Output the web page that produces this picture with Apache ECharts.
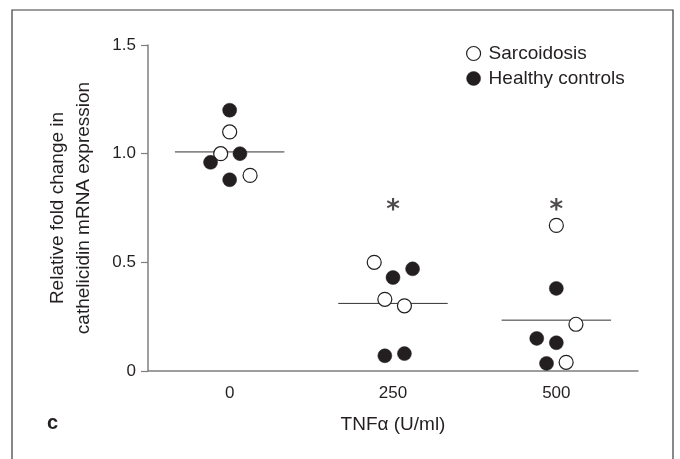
<!DOCTYPE html>
<html>
<head>
<meta charset="utf-8">
<script src="https://cdn.jsdelivr.net/npm/echarts@6/dist/echarts.min.js"></script>
<style>
html,body{margin:0;padding:0;background:#fff;}
#chart{width:680px;height:459px;}
</style>
</head>
<body>
<div id="chart"></div>
<script>
// ---- data ----
const categories = ['0', '250', '500'];
const yTicks = [0, 0.5, 1.0, 1.5];
const sarcoidosisValues = [[1.00, 1.10, 0.90], [0.50, 0.33, 0.30], [0.67, 0.215, 0.04]];
const healthyValues = [[1.20, 1.00, 0.96, 0.88], [0.43, 0.47, 0.07, 0.08], [0.38, 0.15, 0.13, 0.035]];
const medians = [1.008, 0.311, 0.234];
const significant = [false, true, true];
const asteriskLevel = 0.77;
// horizontal jitter of dots within a category (layout)
const sarcoidosisJitter = [[-0.055, 0, 0.125], [-0.115, -0.05, 0.07], [0, 0.12, 0.06]];
const healthyJitter = [[0, 0.063, -0.117, 0], [0, 0.12, -0.05, 0.07], [0, -0.12, 0, -0.06]];
const medianHalfWidth = 0.335;

const FONT = 'Liberation Sans';
const TXT = '#231f20';
const AX = '#7f7f7f';

function pts(vals, jit) {
  const out = [];
  vals.forEach((g, gi) => g.forEach((v, i) => out.push([gi + jit[gi][i], v])));
  return out;
}

const series = [
  {
    name: 'Sarcoidosis', type: 'scatter', xAxisIndex: 1, yAxisIndex: 0,
    symbol: 'circle', symbolSize: 14, z: 5,
    itemStyle: { color: '#ffffff', borderColor: TXT, borderWidth: 1.2, opacity: 1 },
    data: pts(sarcoidosisValues, sarcoidosisJitter)
  },
  {
    name: 'Healthy controls', type: 'scatter', xAxisIndex: 1, yAxisIndex: 0,
    symbol: 'circle', symbolSize: 14, z: 5,
    itemStyle: { color: TXT, borderColor: TXT, borderWidth: 0.5, opacity: 1 },
    data: pts(healthyValues, healthyJitter)
  }
];
medians.forEach((m, gi) => {
  series.push({
    type: 'line', xAxisIndex: 1, yAxisIndex: 0, symbol: 'none', silent: true, z: 3,
    lineStyle: { color: '#333', width: 1 },
    data: [[gi - medianHalfWidth, m], [gi + medianHalfWidth, m]]
  });
});
series.push({
  type: 'scatter', xAxisIndex: 1, yAxisIndex: 0, symbolSize: 1, silent: true,
  itemStyle: { color: 'rgba(0,0,0,0)' },
  label: { show: true, position: 'inside', formatter: '*', fontFamily: 'DejaVu Sans', fontWeight: 'bold', fontSize: 26, color: TXT, offset: [0, 8] },
  data: significant.map((s, gi) => s ? [gi, asteriskLevel] : null).filter(d => d)
});

const chart = echarts.init(document.getElementById('chart'), null, { renderer: 'canvas' });
chart.setOption({
  animation: false,
  backgroundColor: '#fff',
  textStyle: { fontFamily: FONT },
  grid: { left: 148, right: 42, top: 45, bottom: 88, containLabel: false },
  legend: {
    orient: 'vertical', left: 461, top: 39, itemWidth: 14, itemHeight: 14, itemGap: 6,
    textStyle: { fontFamily: FONT, fontSize: 19, color: TXT, padding: [0, 0, 0, 3] },
    data: [
      { name: 'Sarcoidosis', icon: 'circle', itemStyle: { color: '#fff', borderColor: TXT, borderWidth: 1.2 } },
      { name: 'Healthy controls', icon: 'circle', itemStyle: { color: TXT, borderColor: TXT, borderWidth: 0.5 } }
    ]
  },
  xAxis: [
    {
      type: 'category', data: categories, boundaryGap: true,
      name: 'TNFα (U/ml)', nameLocation: 'middle', nameGap: 44,
      nameTextStyle: { fontFamily: FONT, fontSize: 19, color: TXT },
      axisLine: { onZero: false, lineStyle: { color: AX, width: 1.5 } },
      axisTick: { alignWithLabel: true, length: 7, lineStyle: { color: AX, width: 1.2 } },
      axisLabel: { fontFamily: FONT, fontSize: 17, color: TXT, margin: 14 },
      splitLine: { show: false }
    },
    {
      type: 'value', min: -0.5, max: 2.5, show: false, splitLine: { show: false },
      axisLine: { onZero: false }
    }
  ],
  yAxis: {
    type: 'value', min: yTicks[0], max: yTicks[yTicks.length - 1], interval: 0.5,
    name: 'Relative fold change in\ncathelicidin mRNA expression',
    nameLocation: 'middle', nameRotate: 90, nameGap: 51,
    nameTextStyle: { fontFamily: FONT, fontSize: 19, color: TXT, lineHeight: 26 },
    axisLine: { show: true, onZero: false, lineStyle: { color: AX, width: 1.5 } },
    axisTick: { show: true, length: 7, lineStyle: { color: AX, width: 1.2 } },
    axisLabel: { fontFamily: FONT, fontSize: 17, color: TXT, margin: 12,
      formatter: v => (v === 0 ? '0' : v.toFixed(1)) },
    splitLine: { show: false }
  },
  graphic: [
    { type: 'rect', shape: { x: 12, y: 10, width: 661, height: 470 },
      style: { fill: 'none', stroke: '#3a3a3a', lineWidth: 1.2 }, silent: true },
    { type: 'text', left: 47, top: 413, style: { text: 'c', font: 'bold 20px "Liberation Sans"', fill: TXT } }
  ],
  series: series
});
</script>
</body>
</html>
